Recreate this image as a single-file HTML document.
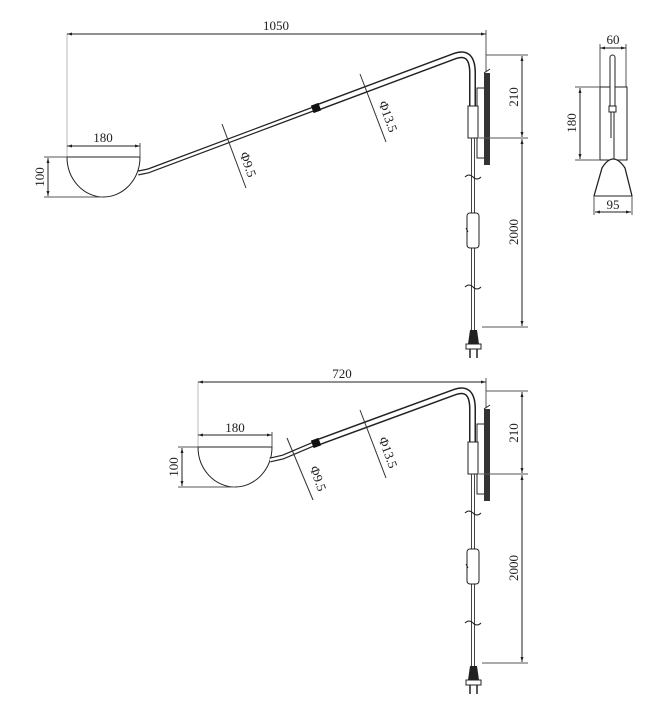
<!DOCTYPE html>
<html><head><style>
html,body{margin:0;padding:0;background:#fff;}
svg{display:block;}
text{font-family:"Liberation Serif",serif;font-size:13px;fill:#222;}
</style></head><body>
<svg width="670" height="720" viewBox="0 0 670 720" xmlns="http://www.w3.org/2000/svg">
<defs>
<marker id="a" viewBox="0 0 10 10" refX="10" refY="5" markerWidth="7" markerHeight="5" orient="auto-start-reverse"><path d="M0,2 L10,5 L0,8z" fill="#222"/></marker>
<g id="mount">
  <rect x="477" y="88" width="8" height="70" fill="#fff" stroke="#222" stroke-width="1"/>
  <rect x="484" y="73" width="6" height="92" fill="#333"/>
  <line x1="484" y1="73" x2="490" y2="69" stroke="#222"/>
  <rect x="468" y="106" width="10" height="32" fill="#fff" stroke="#222"/>
  <line x1="471.5" y1="138" x2="471.5" y2="330" stroke="#444" stroke-width="1"/>
  <line x1="474.5" y1="138" x2="474.5" y2="330" stroke="#444" stroke-width="1"/>
  <path d="M465,177 q4,-4 8,0 q4,4 8,0" fill="none" stroke="#222"/>
  <path d="M465,287 q4,-4 8,0 q4,4 8,0" fill="none" stroke="#222"/>
  <rect x="467" y="213" width="12" height="35" rx="3" fill="#fff" stroke="#222"/>
  <line x1="466" y1="228" x2="468" y2="232" stroke="#222"/>
  <path d="M470,330 L477,330 L479,344 L468,344z" fill="#222"/>
  <rect x="466" y="344" width="15" height="5" fill="#fff" stroke="#222"/>
  <line x1="470" y1="349" x2="470" y2="358" stroke="#222" stroke-width="1.5"/>
  <line x1="477" y1="349" x2="477" y2="358" stroke="#222" stroke-width="1.5"/>
  <line x1="486" y1="55" x2="528" y2="55" stroke="#555"/>
  <line x1="479" y1="138" x2="528" y2="138" stroke="#555"/>
  <line x1="482" y1="327" x2="528" y2="327" stroke="#555"/>
  <line x1="522" y1="56" x2="522" y2="137" stroke="#222" marker-start="url(#a)" marker-end="url(#a)"/>
  <line x1="522" y1="139" x2="522" y2="326" stroke="#222" marker-start="url(#a)" marker-end="url(#a)"/>
  <text transform="translate(518,97) rotate(-90)" text-anchor="middle">210</text>
  <text transform="translate(518,232) rotate(-90)" text-anchor="middle">2000</text>
</g>
</defs>

<line x1="67" y1="34" x2="67" y2="157" stroke="#bbb"/>
<line x1="486" y1="30" x2="486" y2="72" stroke="#555"/>
<line x1="67" y1="34" x2="486" y2="34" stroke="#222" marker-start="url(#a)" marker-end="url(#a)"/>
<text x="276" y="30" text-anchor="middle">1050</text>

<path d="M67,157 L140,157 A36.5,40 0 0 1 67,157z" fill="#fff" stroke="#222"/>
<line x1="67" y1="146" x2="140" y2="146" stroke="#222" marker-start="url(#a)" marker-end="url(#a)"/>
<line x1="140" y1="143" x2="140" y2="157" stroke="#555"/>
<text x="103" y="142" text-anchor="middle">180</text>
<line x1="44" y1="157" x2="67" y2="157" stroke="#555"/>
<line x1="44" y1="197" x2="103" y2="197" stroke="#555"/>
<line x1="48" y1="158" x2="48" y2="196" stroke="#222" marker-start="url(#a)" marker-end="url(#a)"/>
<text transform="translate(44,177) rotate(-90)" text-anchor="middle">100</text>

<path d="M138,173 L148,171 L316,108" fill="none" stroke="#222" stroke-width="5"/>
<path d="M138,173 L148,171 L316,108" fill="none" stroke="#fff" stroke-width="2.5"/>
<path d="M316,108 L455,56 Q472,50 472.5,72 L472.5,107" fill="none" stroke="#222" stroke-width="7"/>
<path d="M316,108 L455,56 Q472,50 472.5,72 L472.5,107" fill="none" stroke="#fff" stroke-width="4"/>
<rect x="-4" y="-4" width="8" height="8" fill="#111" transform="translate(316,108) rotate(-20)"/>
<line x1="222" y1="124" x2="246" y2="188" stroke="#333"/>
<text transform="translate(244,166) rotate(70)" text-anchor="middle" font-size="12">Φ9.5</text>
<line x1="360" y1="74" x2="386" y2="142" stroke="#333"/>
<text transform="translate(384,118) rotate(70)" text-anchor="middle" font-size="12">Φ13.5</text>

<use href="#mount"/>

<line x1="600" y1="44" x2="600" y2="87" stroke="#555"/>
<line x1="626" y1="44" x2="626" y2="87" stroke="#555"/>
<line x1="600" y1="48" x2="626" y2="48" stroke="#222" marker-start="url(#a)" marker-end="url(#a)"/>
<text x="613" y="44" text-anchor="middle">60</text>
<rect x="600" y="87" width="27" height="73" fill="#fff" stroke="#222"/>
<rect x="610" y="55" width="5" height="55" rx="2.5" fill="#fff" stroke="#222"/>
<rect x="609" y="106" width="7" height="6" fill="#fff" stroke="#222"/>
<line x1="611" y1="112" x2="611" y2="138" stroke="#222"/>
<line x1="614" y1="112" x2="614" y2="160" stroke="#222"/>
<line x1="575" y1="87" x2="600" y2="87" stroke="#555"/>
<line x1="575" y1="160" x2="600" y2="160" stroke="#555"/>
<line x1="580" y1="88" x2="580" y2="159" stroke="#222" marker-start="url(#a)" marker-end="url(#a)"/>
<text transform="translate(576,123) rotate(-90)" text-anchor="middle">180</text>
<path d="M594,196 L602,168 Q613,150 625,168 L632,196" fill="#fff" stroke="#222" stroke-width="1.3"/>
<line x1="594" y1="196" x2="632" y2="196" stroke="#222"/>
<line x1="594" y1="196" x2="594" y2="215" stroke="#555"/>
<line x1="632" y1="196" x2="632" y2="215" stroke="#555"/>
<line x1="595" y1="212" x2="631" y2="212" stroke="#222" marker-start="url(#a)" marker-end="url(#a)"/>
<text x="613" y="209" text-anchor="middle">95</text>

<line x1="198" y1="382" x2="198" y2="447" stroke="#bbb"/>
<line x1="486" y1="378" x2="486" y2="408" stroke="#555"/>
<line x1="198" y1="382" x2="486" y2="382" stroke="#222" marker-start="url(#a)" marker-end="url(#a)"/>
<text x="342" y="378" text-anchor="middle">720</text>

<path d="M198,447 L272,447 A37,40 0 0 1 198,447z" fill="#fff" stroke="#222"/>
<line x1="198" y1="435" x2="272" y2="435" stroke="#222" marker-start="url(#a)" marker-end="url(#a)"/>
<line x1="272" y1="432" x2="272" y2="447" stroke="#555"/>
<text x="235" y="432" text-anchor="middle">180</text>
<line x1="178" y1="447" x2="198" y2="447" stroke="#555"/>
<line x1="178" y1="487" x2="235" y2="487" stroke="#555"/>
<line x1="182" y1="448" x2="182" y2="486" stroke="#222" marker-start="url(#a)" marker-end="url(#a)"/>
<text transform="translate(178,467) rotate(-90)" text-anchor="middle">100</text>

<path d="M270,460 L283,457 L316,443" fill="none" stroke="#222" stroke-width="5"/>
<path d="M270,460 L283,457 L316,443" fill="none" stroke="#fff" stroke-width="2.5"/>
<path d="M316,443 L455,392 Q472,386 472.5,408 L472.5,443" fill="none" stroke="#222" stroke-width="7"/>
<path d="M316,443 L455,392 Q472,386 472.5,408 L472.5,443" fill="none" stroke="#fff" stroke-width="4"/>
<rect x="-4" y="-4" width="8" height="8" fill="#111" transform="translate(316,443) rotate(-20)"/>
<line x1="287" y1="438" x2="313" y2="500" stroke="#333"/>
<text transform="translate(314,480) rotate(70)" text-anchor="middle" font-size="12">Φ9.5</text>
<line x1="360" y1="410" x2="386" y2="478" stroke="#333"/>
<text transform="translate(384,454) rotate(70)" text-anchor="middle" font-size="12">Φ13.5</text>

<use href="#mount" transform="translate(0,336)"/>
</svg>
</body></html>
